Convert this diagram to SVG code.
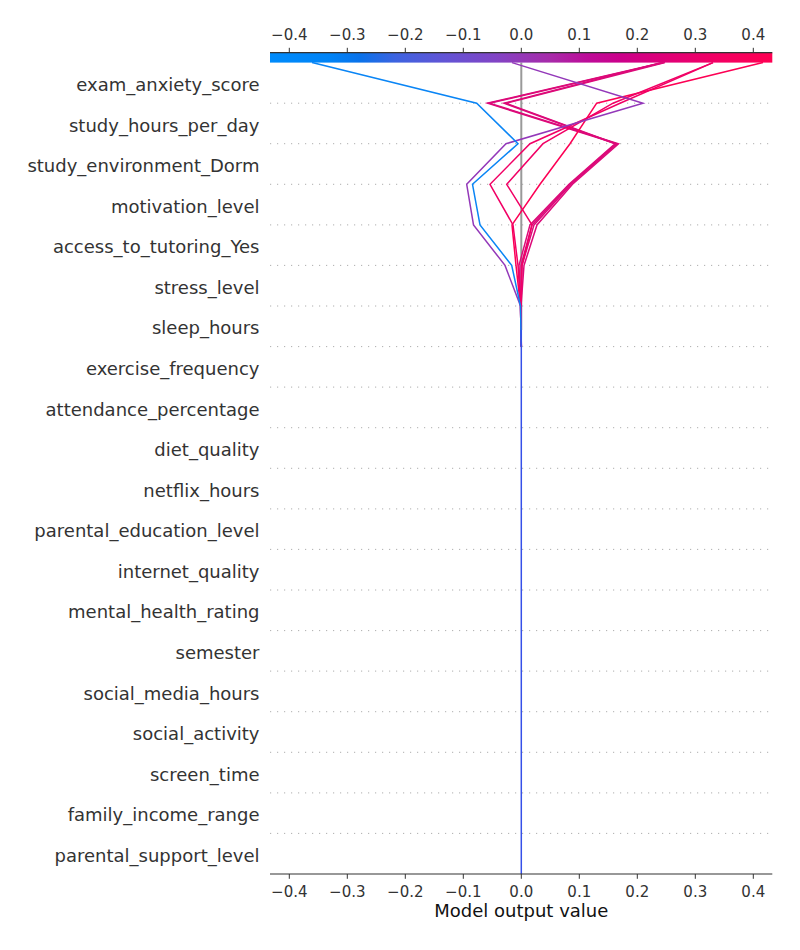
<svg xmlns="http://www.w3.org/2000/svg" width="800" height="950" viewBox="0 0 800 950">
<defs>
<linearGradient id="cbar" gradientUnits="userSpaceOnUse" x1="270" y1="0" x2="772.3" y2="0">
<stop offset="0" stop-color="#008bfb"/>
<stop offset="0.12" stop-color="#0083f6"/>
<stop offset="0.18" stop-color="#0a72ea"/>
<stop offset="0.25" stop-color="#3d63e0"/>
<stop offset="0.35" stop-color="#6354d5"/>
<stop offset="0.45" stop-color="#8144c5"/>
<stop offset="0.50" stop-color="#9438b8"/>
<stop offset="0.56" stop-color="#a82aa9"/>
<stop offset="0.63" stop-color="#bd0c99"/>
<stop offset="0.70" stop-color="#cc008a"/>
<stop offset="0.80" stop-color="#e20075"/>
<stop offset="0.90" stop-color="#f40062"/>
<stop offset="1" stop-color="#ff0052"/>
</linearGradient>
<style>
.lab{font-family:"DejaVu Sans",sans-serif;font-size:18px;fill:#333333;text-anchor:end}
.tick{font-family:"DejaVu Sans",sans-serif;font-size:15px;fill:#333333;text-anchor:middle}
.xl{font-family:"DejaVu Sans",sans-serif;font-size:18px;fill:#111111;text-anchor:middle}
.grid{stroke:#999999;stroke-width:0.8;stroke-dasharray:1.2 5.8;fill:none}
.spine{stroke:#333333;stroke-width:1.1;fill:none}
.ln{fill:none;stroke-width:1.5;stroke-linejoin:miter}
</style>
</defs>
<rect width="800" height="950" fill="#ffffff"/>

<g id="grid">
<line class="grid" x1="270" y1="103.2" x2="772.3" y2="103.2"/>
<line class="grid" x1="270" y1="143.7" x2="772.3" y2="143.7"/>
<line class="grid" x1="270" y1="184.3" x2="772.3" y2="184.3"/>
<line class="grid" x1="270" y1="224.9" x2="772.3" y2="224.9"/>
<line class="grid" x1="270" y1="265.4" x2="772.3" y2="265.4"/>
<line class="grid" x1="270" y1="306.0" x2="772.3" y2="306.0"/>
<line class="grid" x1="270" y1="346.6" x2="772.3" y2="346.6"/>
<line class="grid" x1="270" y1="387.1" x2="772.3" y2="387.1"/>
<line class="grid" x1="270" y1="427.7" x2="772.3" y2="427.7"/>
<line class="grid" x1="270" y1="468.3" x2="772.3" y2="468.3"/>
<line class="grid" x1="270" y1="508.9" x2="772.3" y2="508.9"/>
<line class="grid" x1="270" y1="549.4" x2="772.3" y2="549.4"/>
<line class="grid" x1="270" y1="590.0" x2="772.3" y2="590.0"/>
<line class="grid" x1="270" y1="630.6" x2="772.3" y2="630.6"/>
<line class="grid" x1="270" y1="671.1" x2="772.3" y2="671.1"/>
<line class="grid" x1="270" y1="711.7" x2="772.3" y2="711.7"/>
<line class="grid" x1="270" y1="752.3" x2="772.3" y2="752.3"/>
<line class="grid" x1="270" y1="792.9" x2="772.3" y2="792.9"/>
<line class="grid" x1="270" y1="833.4" x2="772.3" y2="833.4"/>
</g>

<g id="base-line">
<line x1="521.3" y1="62.6" x2="521.3" y2="330" stroke="#999999" stroke-width="2"/>
</g>

<g id="colorbar">
<rect x="270" y="52.6" width="502.3" height="10" fill="url(#cbar)"/>
<line class="spine" x1="270" y1="52.6" x2="772.3" y2="52.6"/>
<g stroke="#333333" stroke-width="1">
<line x1="289.3" y1="47.8" x2="289.3" y2="52.6"/>
<line x1="347.3" y1="47.8" x2="347.3" y2="52.6"/>
<line x1="405.3" y1="47.8" x2="405.3" y2="52.6"/>
<line x1="463.3" y1="47.8" x2="463.3" y2="52.6"/>
<line x1="521.3" y1="47.8" x2="521.3" y2="52.6"/>
<line x1="579.3" y1="47.8" x2="579.3" y2="52.6"/>
<line x1="637.3" y1="47.8" x2="637.3" y2="52.6"/>
<line x1="695.3" y1="47.8" x2="695.3" y2="52.6"/>
<line x1="753.3" y1="47.8" x2="753.3" y2="52.6"/>
</g>
<text class="tick" x="289.3" y="40">−0.4</text>
<text class="tick" x="347.3" y="40">−0.3</text>
<text class="tick" x="405.3" y="40">−0.2</text>
<text class="tick" x="463.3" y="40">−0.1</text>
<text class="tick" x="521.3" y="40">0.0</text>
<text class="tick" x="579.3" y="40">0.1</text>
<text class="tick" x="637.3" y="40">0.2</text>
<text class="tick" x="695.3" y="40">0.3</text>
<text class="tick" x="753.3" y="40">0.4</text>
</g>

<g id="connectors">
<polyline class="ln" stroke="#dc0a79" points="663,62.6 487.5,103.2 617,143.7 571,184.3 534,224.9 522,265.4 520.8,306 521.3,346.6"/>
<polyline class="ln" stroke="#dc0a79" points="664,62.6 489.5,103.2 618.5,143.7 572.5,184.3 537,224.9 524,265.4 521,306 521.3,346.6"/>
<polyline class="ln" stroke="#dc0a79" points="662,62.6 504,103.2 615,143.7 569,184.3 530,224.9 519,265.4 520.8,306 521.3,346.6"/>
<polyline class="ln" stroke="#dc0a79" points="665,62.6 506,103.2 616,143.7 570,184.3 532,224.9 521,265.4 521,306 521.3,346.6"/>
<polyline class="ln" stroke="#fd0054" points="763,62.6 596.7,103.2 570,143.7 540,184.3 512,224.9 516,265.4 520.5,306 521.3,346.6"/>
<polyline class="ln" stroke="#f10065" points="713,62.6 613,103.2 543,143.7 506.7,184.3 532,224.9 522,265.4 521,306 521.3,346.6"/>
<polyline class="ln" stroke="#f10065" points="713,62.6 620,103.2 530,143.7 490,184.3 513,224.9 518,265.4 520.5,306 521.3,346.6"/>
<polyline class="ln" stroke="#9338b9" points="512,62.6 643,103.2 506,143.7 466.7,184.3 473.5,224.9 505,265.4 520.5,306 521.3,346.6"/>
<polyline class="ln" stroke="#0a85f5" points="312,62.6 476.7,103.2 518,143.7 472.5,184.3 480,224.9 511.7,265.4 520.5,306 521.3,346.6"/>
<path class="ln" stroke="#3550e8" stroke-width="2.4" d="M521.3,330 L521.3,874"/>
</g>

<g id="bottom-axis">
<line class="spine" x1="270" y1="874" x2="772.3" y2="874"/>
<g stroke="#333333" stroke-width="1">
<line x1="289.3" y1="874" x2="289.3" y2="878.8"/>
<line x1="347.3" y1="874" x2="347.3" y2="878.8"/>
<line x1="405.3" y1="874" x2="405.3" y2="878.8"/>
<line x1="463.3" y1="874" x2="463.3" y2="878.8"/>
<line x1="521.3" y1="874" x2="521.3" y2="878.8"/>
<line x1="579.3" y1="874" x2="579.3" y2="878.8"/>
<line x1="637.3" y1="874" x2="637.3" y2="878.8"/>
<line x1="695.3" y1="874" x2="695.3" y2="878.8"/>
<line x1="753.3" y1="874" x2="753.3" y2="878.8"/>
</g>
<text class="tick" x="289.3" y="897">−0.4</text>
<text class="tick" x="347.3" y="897">−0.3</text>
<text class="tick" x="405.3" y="897">−0.2</text>
<text class="tick" x="463.3" y="897">−0.1</text>
<text class="tick" x="521.3" y="897">0.0</text>
<text class="tick" x="579.3" y="897">0.1</text>
<text class="tick" x="637.3" y="897">0.2</text>
<text class="tick" x="695.3" y="897">0.3</text>
<text class="tick" x="753.3" y="897">0.4</text>
<text class="xl" x="521.3" y="917">Model output value</text>
</g>

<g id="feature-labels">
<text class="lab" x="259.5" y="90.9">exam_anxiety_score</text>
<text class="lab" x="259.5" y="131.5">study_hours_per_day</text>
<text class="lab" x="259.5" y="172.0">study_environment_Dorm</text>
<text class="lab" x="259.5" y="212.6">motivation_level</text>
<text class="lab" x="259.5" y="253.2">access_to_tutoring_Yes</text>
<text class="lab" x="259.5" y="293.8">stress_level</text>
<text class="lab" x="259.5" y="334.3">sleep_hours</text>
<text class="lab" x="259.5" y="374.9">exercise_frequency</text>
<text class="lab" x="259.5" y="415.5">attendance_percentage</text>
<text class="lab" x="259.5" y="456.0">diet_quality</text>
<text class="lab" x="259.5" y="496.6">netflix_hours</text>
<text class="lab" x="259.5" y="537.2">parental_education_level</text>
<text class="lab" x="259.5" y="577.8">internet_quality</text>
<text class="lab" x="259.5" y="618.3">mental_health_rating</text>
<text class="lab" x="259.5" y="658.9">semester</text>
<text class="lab" x="259.5" y="699.5">social_media_hours</text>
<text class="lab" x="259.5" y="740.0">social_activity</text>
<text class="lab" x="259.5" y="780.6">screen_time</text>
<text class="lab" x="259.5" y="821.2">family_income_range</text>
<text class="lab" x="259.5" y="861.7">parental_support_level</text>
</g>
</svg>
